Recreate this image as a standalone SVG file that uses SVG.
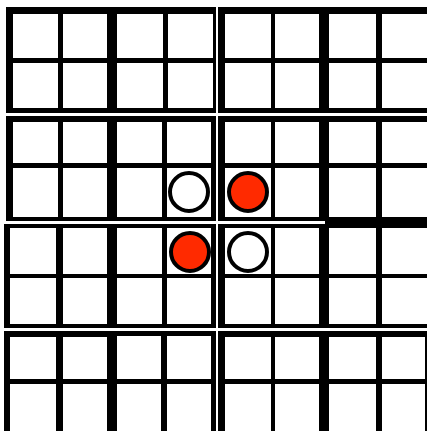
<svg xmlns="http://www.w3.org/2000/svg" width="427" height="431" viewBox="0 0 427 431">
<style>
.blk{fill:#000}
.cell{fill:#fff}
.stone{stroke:#000;stroke-width:4}
.w{fill:#fff}
.r{fill:#ff2a00}
</style>
<rect width="427" height="431" fill="#fff"/>
<g id="band1-left">
<rect class="blk" x="6" y="7" width="210" height="106"/>
<rect class="cell" x="13" y="14" width="45" height="44"/><rect class="cell" x="63" y="14" width="44" height="44"/><rect class="cell" x="117" y="14" width="46" height="44"/><rect class="cell" x="168" y="14" width="45" height="44"/>
<rect class="cell" x="13" y="63" width="45" height="45"/><rect class="cell" x="63" y="63" width="44" height="45"/><rect class="cell" x="117" y="63" width="46" height="45"/><rect class="cell" x="168" y="63" width="45" height="45"/>
</g>
<g id="band1-right">
<rect class="blk" x="218" y="7" width="209" height="106"/>
<rect class="cell" x="225" y="14" width="46" height="44"/><rect class="cell" x="275" y="14" width="44" height="44"/><rect class="cell" x="329" y="14" width="47" height="44"/><rect class="cell" x="382" y="14" width="45" height="44"/>
<rect class="cell" x="225" y="63" width="46" height="45"/><rect class="cell" x="275" y="63" width="44" height="45"/><rect class="cell" x="329" y="63" width="47" height="45"/><rect class="cell" x="382" y="63" width="45" height="45"/>
</g>
<g id="band2-left">
<rect class="blk" x="6" y="116" width="210" height="105"/>
<rect class="cell" x="13" y="122" width="45" height="41"/><rect class="cell" x="63" y="122" width="44" height="41"/><rect class="cell" x="117" y="122" width="45" height="41"/><rect class="cell" x="167" y="122" width="44" height="41"/>
<rect class="cell" x="13" y="168" width="45" height="49"/><rect class="cell" x="63" y="168" width="44" height="49"/><rect class="cell" x="117" y="168" width="45" height="49"/><rect class="cell" x="167" y="168" width="44" height="49"/>
</g>
<g id="band2-right">
<rect class="blk" x="218" y="116" width="209" height="105"/>
<rect class="cell" x="225" y="122" width="46" height="41"/><rect class="cell" x="275" y="122" width="44" height="41"/><rect class="cell" x="329" y="122" width="47" height="41"/><rect class="cell" x="382" y="122" width="45" height="41"/>
<rect class="cell" x="225" y="168" width="46" height="49"/><rect class="cell" x="275" y="168" width="44" height="49"/><rect class="cell" x="329" y="168" width="47" height="49"/><rect class="cell" x="382" y="168" width="45" height="49"/>
</g>
<g id="band3-left">
<rect class="blk" x="4" y="224" width="212" height="104"/>
<rect class="cell" x="10" y="228" width="46" height="46"/><rect class="cell" x="63" y="228" width="44" height="46"/><rect class="cell" x="117" y="228" width="45" height="46"/><rect class="cell" x="167" y="228" width="44" height="46"/>
<rect class="cell" x="10" y="278" width="46" height="46"/><rect class="cell" x="63" y="278" width="44" height="46"/><rect class="cell" x="117" y="278" width="45" height="46"/><rect class="cell" x="167" y="278" width="44" height="46"/>
</g>
<g id="band3-right">
<rect class="blk" x="218" y="224" width="209" height="104"/>
<rect class="blk" x="325" y="217" width="102" height="11"/>
<rect class="cell" x="225" y="228" width="46" height="46"/><rect class="cell" x="275" y="228" width="44" height="46"/><rect class="cell" x="329" y="228" width="47" height="46"/><rect class="cell" x="382" y="228" width="45" height="46"/>
<rect class="cell" x="225" y="278" width="46" height="46"/><rect class="cell" x="275" y="278" width="44" height="46"/><rect class="cell" x="329" y="278" width="47" height="46"/><rect class="cell" x="382" y="278" width="45" height="46"/>
</g>
<g id="band4-left">
<rect class="blk" x="4" y="331" width="212" height="100"/>
<rect class="cell" x="10" y="337" width="46" height="42"/><rect class="cell" x="63" y="337" width="44" height="42"/><rect class="cell" x="117" y="336" width="44" height="43"/><rect class="cell" x="167" y="336" width="44" height="43"/>
<rect class="cell" x="10" y="384" width="46" height="47"/><rect class="cell" x="63" y="384" width="44" height="47"/><rect class="cell" x="117" y="384" width="44" height="47"/><rect class="cell" x="167" y="384" width="44" height="47"/>
</g>
<g id="band4-right">
<rect class="blk" x="218" y="331" width="209" height="100"/>
<rect class="cell" x="225" y="337" width="46" height="42"/><rect class="cell" x="275" y="337" width="44" height="42"/><rect class="cell" x="329" y="337" width="47" height="42"/><rect class="cell" x="382" y="337" width="43" height="42"/>
<rect class="cell" x="225" y="384" width="46" height="47"/><rect class="cell" x="275" y="384" width="44" height="47"/><rect class="cell" x="329" y="384" width="47" height="47"/><rect class="cell" x="382" y="384" width="43" height="47"/>
</g>
<g id="stones">
<circle class="stone w" cx="189" cy="192" r="19"/>
<circle class="stone r" cx="248" cy="192" r="19"/>
<circle class="stone r" cx="190" cy="252" r="19"/>
<circle class="stone w" cx="248" cy="252" r="19"/>
</g>
</svg>
